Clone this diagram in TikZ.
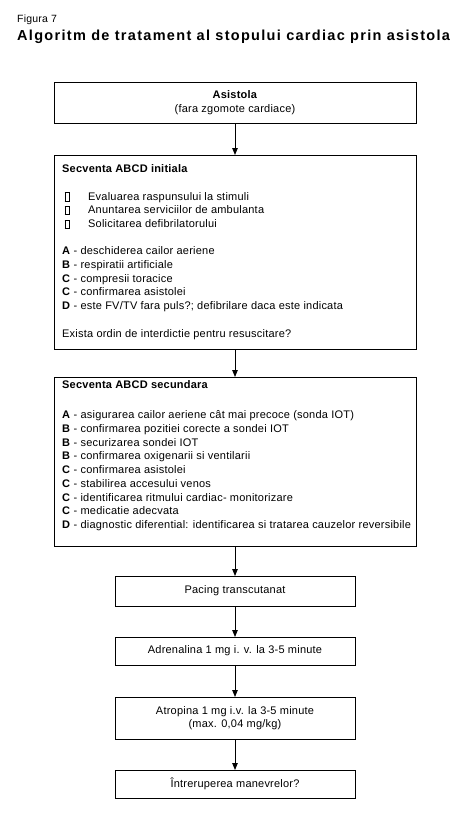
\documentclass[tikz,border=0pt]{standalone}
\usepackage{fontspec}
\setmainfont{Liberation Sans}[LetterSpace=2]
\newfontfamily\titlefont{Liberation Sans}[LetterSpace=9]
\usetikzlibrary{arrows.meta}
\newcommand\chkbox{\raisebox{-0.5pt}{\fboxsep=0pt\fboxrule=0.8pt\fbox{\rule{0pt}{7.5pt}\hspace{3.2pt}}}}
\newcommand\chkitem[1]{\makebox[26pt][l]{\hspace{2.5pt}\chkbox}#1}
\begin{document}
\begin{tikzpicture}[x=1pt,y=-1pt,
  box/.style={draw, line width=0.9pt, anchor=north west, inner sep=0pt, outer sep=0pt},
  body/.style={font=\fontsize{11}{13.7}\selectfont, inner sep=0pt},
  lefttext/.style={body, anchor=north west, align=left},
  ctext/.style={body, align=center},
  arr/.style={line width=0.9pt, -{Triangle[length=7pt,width=5.5pt]}}
]
\useasboundingbox[fill=white] (0,0) rectangle (466,822);
\node[anchor=base west, inner sep=0pt, font=\fontsize{10.5}{12}\selectfont] (fig) at (17,22) {Figura 7};
\node[anchor=base west, inner sep=0pt, font=\titlefont\fontsize{14.5}{16}\selectfont\bfseries] (title) at (17,40) {Algoritm de tratament al stopului cardiac prin asistola};

\node[box, minimum width=362pt, minimum height=41pt] (b1) at (54,82) {};
\node[ctext] (t1) at (b1.center) {\textbf{Asistola}\\(fara zgomote cardiace)};

\node[box, minimum width=362pt, minimum height=194pt] (b2) at (54,155) {};
\node[lefttext] (t2) at (62,164.5) {\textbf{Secventa ABCD initiala}\\[13.7pt]
\chkitem{Evaluarea raspunsului la stimuli}\\
\chkitem{Anuntarea serviciilor de ambulanta}\\
\chkitem{Solicitarea defibrilatorului}\\[13.7pt]
\textbf{A} - deschiderea cailor aeriene\\
\textbf{B} - respiratii artificiale\\
\textbf{C} - compresii toracice\\
\textbf{C} - confirmarea asistolei\\
\textbf{D} - este FV/TV fara puls?; defibrilare daca este indicata\\[13.7pt]
Exista ordin de interdictie pentru resuscitare?};

\node[box, minimum width=362pt, minimum height=169pt] (b3) at (54,377) {};
\node[lefttext] (t3) at (62,380) {\textbf{Secventa ABCD secundara}\\[17pt]
\textbf{A} - asigurarea cailor aeriene cât mai precoce (sonda IOT)\\
\textbf{B} - confirmarea pozitiei corecte a sondei IOT\\
\textbf{B} - securizarea sondei IOT\\
\textbf{B} - confirmarea oxigenarii si ventilarii\\
\textbf{C} - confirmarea asistolei\\
\textbf{C} - stabilirea accesului venos\\
\textbf{C} - identificarea ritmului cardiac- monitorizare\\
\textbf{C} - medicatie adecvata\\
\textbf{D} - diagnostic diferential: identificarea si tratarea cauzelor reversibile};

\node[box, minimum width=240pt, minimum height=30pt] (b4) at (115,576) {};
\node[ctext] (t4) at (b4.center) {Pacing transcutanat};
\node[box, minimum width=240pt, minimum height=28pt] (b5) at (115,637) {};
\node[ctext] (t5) at (b5.center) {Adrenalina 1 mg i. v. la 3-5 minute};
\node[box, minimum width=240pt, minimum height=42pt] (b6) at (115,697) {};
\node[ctext] (t6) at (b6.center) {Atropina 1 mg i.v. la 3-5 minute\\(max. 0,04 mg/kg)};
\node[box, minimum width=240pt, minimum height=28pt] (b7) at (115,770) {};
\node[ctext] (t7) at (b7.center) {Întreruperea manevrelor?};

\draw[arr] (b1.south) -- (b2.north);
\draw[arr] (b2.south) -- (b3.north);
\draw[arr] (b3.south) -- (b4.north);
\draw[arr] (b4.south) -- (b5.north);
\draw[arr] (b5.south) -- (b6.north);
\draw[arr] (b6.south) -- (b7.north);
\end{tikzpicture}
\end{document}
